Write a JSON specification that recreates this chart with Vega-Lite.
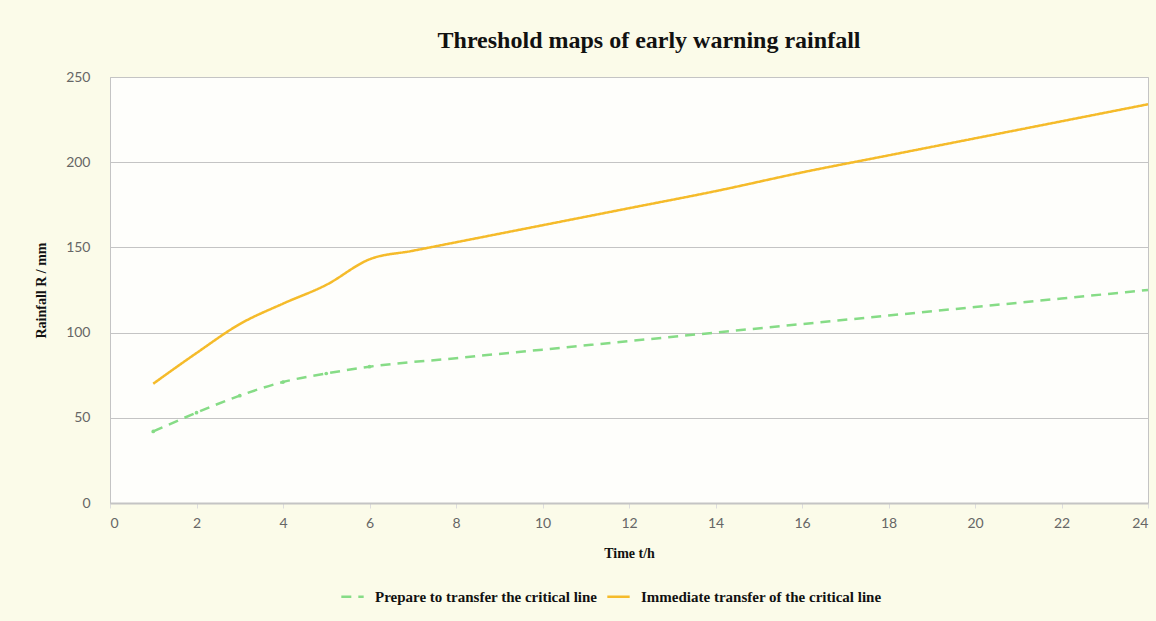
{
  "$schema": "https://vega.github.io/schema/vega-lite/v6.json",
  "autosize": {"type": "none"},
  "width": 1038,
  "height": 426,
  "padding": {"left": 110, "top": 77, "right": 8, "bottom": 118},
  "background": "#fbfbe9",
  "config": {
    "view": {"fill": "#fefefb", "stroke": "#c4c4c4", "strokeWidth": 1},
    "axis": {"labelFont": "Lato", "labelColor": "#666666", "labelFontSize": 14, "titleFont": "Liberation Serif", "titleFontWeight": "bold", "titleColor": "#111111", "titleFontSize": 14}
  },
  "title": {"text": "Threshold maps of early warning rainfall", "font": "Liberation Serif", "fontSize": 24, "fontWeight": "bold", "color": "#111111", "offset": 17, "dx": 20},
  "data": {"values": [
    {"series": "Prepare to transfer the critical line", "t": 1, "R": 42},
    {"series": "Prepare to transfer the critical line", "t": 2, "R": 53},
    {"series": "Prepare to transfer the critical line", "t": 3, "R": 63},
    {"series": "Prepare to transfer the critical line", "t": 4, "R": 71},
    {"series": "Prepare to transfer the critical line", "t": 5, "R": 76},
    {"series": "Prepare to transfer the critical line", "t": 6, "R": 80},
    {"series": "Prepare to transfer the critical line", "t": 8, "R": 85},
    {"series": "Prepare to transfer the critical line", "t": 10, "R": 90},
    {"series": "Prepare to transfer the critical line", "t": 12, "R": 95},
    {"series": "Prepare to transfer the critical line", "t": 14, "R": 100},
    {"series": "Prepare to transfer the critical line", "t": 16, "R": 105},
    {"series": "Prepare to transfer the critical line", "t": 18, "R": 110},
    {"series": "Prepare to transfer the critical line", "t": 20, "R": 115},
    {"series": "Prepare to transfer the critical line", "t": 22, "R": 120},
    {"series": "Prepare to transfer the critical line", "t": 24, "R": 125},
    {"series": "Immediate transfer of the critical line", "t": 1, "R": 70},
    {"series": "Immediate transfer of the critical line", "t": 2, "R": 88},
    {"series": "Immediate transfer of the critical line", "t": 3, "R": 105},
    {"series": "Immediate transfer of the critical line", "t": 4, "R": 117},
    {"series": "Immediate transfer of the critical line", "t": 5, "R": 128},
    {"series": "Immediate transfer of the critical line", "t": 6, "R": 143},
    {"series": "Immediate transfer of the critical line", "t": 7, "R": 148},
    {"series": "Immediate transfer of the critical line", "t": 8, "R": 153},
    {"series": "Immediate transfer of the critical line", "t": 10, "R": 163},
    {"series": "Immediate transfer of the critical line", "t": 12, "R": 173},
    {"series": "Immediate transfer of the critical line", "t": 14, "R": 183},
    {"series": "Immediate transfer of the critical line", "t": 16, "R": 194},
    {"series": "Immediate transfer of the critical line", "t": 18, "R": 204},
    {"series": "Immediate transfer of the critical line", "t": 20, "R": 214},
    {"series": "Immediate transfer of the critical line", "t": 22, "R": 224},
    {"series": "Immediate transfer of the critical line", "t": 24, "R": 234}
  ]},
  "layer": [
    {
      "mark": {"type": "line", "interpolate": "monotone", "strokeWidth": 2.5},
      "encoding": {
        "x": {"field": "t", "type": "quantitative", "title": "Time t/h", "scale": {"domain": [0, 24], "nice": false},
          "axis": {"values": [0,2,4,6,8,10,12,14,16,18,20,22,24], "grid": false, "domainColor": "#c4c4c4", "domainWidth": 2, "tickColor": "#dddddd", "tickSize": 5, "labelPadding": 8, "titlePadding": 16}},
        "y": {"field": "R", "type": "quantitative", "title": "Rainfall R / mm", "scale": {"domain": [0, 250], "nice": false},
          "axis": {"values": [0,50,100,150,200,250], "gridColor": "#c4c4c4", "domainColor": "#c4c4c4", "ticks": false, "labelPadding": 20, "titlePadding": 17}},
        "color": {"field": "series", "type": "nominal", "sort": ["Prepare to transfer the critical line", "Immediate transfer of the critical line"],
          "scale": {"domain": ["Prepare to transfer the critical line", "Immediate transfer of the critical line"], "range": ["#86dc86", "#f5bb2a"]},
          "legend": {"orient": "none", "direction": "horizontal", "legendX": 230, "legendY": 507, "title": null, "labelFont": "Liberation Serif", "labelFontWeight": "bold", "labelFontSize": 15, "labelColor": "#111111", "labelLimit": 0, "labelOffset": 10, "symbolType": "stroke", "symbolStrokeWidth": 2.5, "symbolSize": 500, "columnPadding": 4}},
        "strokeDash": {"field": "series", "type": "nominal",
          "scale": {"domain": ["Prepare to transfer the critical line", "Immediate transfer of the critical line"], "range": [[10, 7], [1, 0]]},
          "legend": null}
      }
    },
    {
      "mark": {"type": "point", "filled": true, "size": 14, "opacity": 1},
      "transform": [{"filter": "datum.series === 'Prepare to transfer the critical line' && datum.t <= 6"}],
      "encoding": {
        "x": {"field": "t", "type": "quantitative"},
        "y": {"field": "R", "type": "quantitative"},
        "color": {"field": "series", "type": "nominal", "legend": null}
      }
    }
  ]
}
